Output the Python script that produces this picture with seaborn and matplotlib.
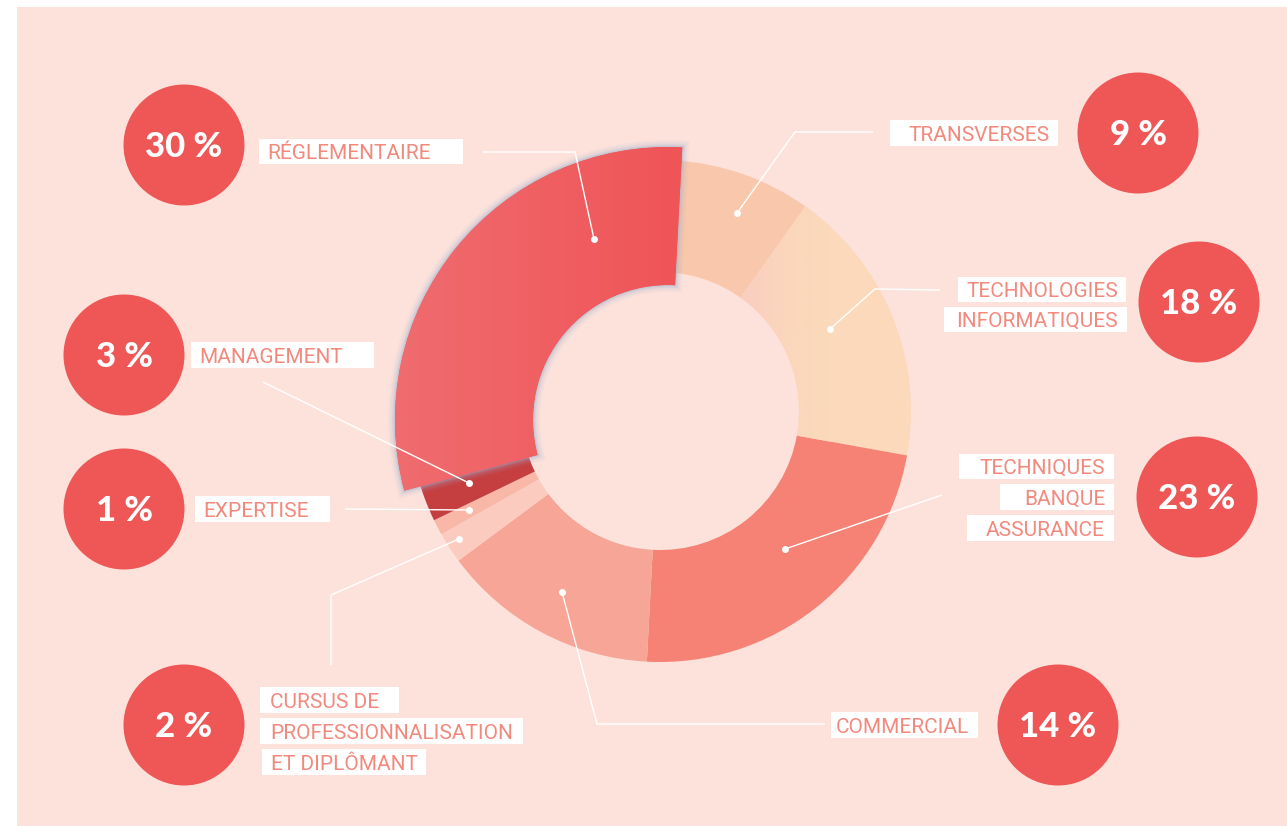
import numpy as np
import matplotlib.pyplot as plt
import seaborn as sns
from matplotlib.patches import Wedge, Circle, Rectangle

# data (clockwise from the top)
categories = ["TRANSVERSES", "TECHNOLOGIES INFORMATIQUES", "TECHNIQUES BANQUE ASSURANCE",
              "COMMERCIAL", "CURSUS DE PROFESSIONNALISATION ET DIPLÔMANT",
              "EXPERTISE", "MANAGEMENT", "RÉGLEMENTAIRE"]
shares = [9, 18, 23, 14, 2, 1, 3, 30]
label_lines = [["TRANSVERSES"],
               ["TECHNOLOGIES", "INFORMATIQUES"],
               ["TECHNIQUES", "BANQUE", "ASSURANCE"],
               ["COMMERCIAL"],
               ["CURSUS DE", "PROFESSIONNALISATION", "ET DIPLÔMANT"],
               ["EXPERTISE"],
               ["MANAGEMENT"],
               ["RÉGLEMENTAIRE"]]

# styles
slice_colors = ["#f9c7ab", "#fbd9ba", "#f58275", "#f6a596",
                "#fbcbbf", "#f8b7a7", "#c53f41", "#ef5a5d"]
BG = "#fde2dc"
CIRCLE = "#ef5757"
TXT = "#f3897d"
GLOW = "#9fb0cf"

W, H = 1287, 827
def Y(y):
    return H - y

sns.set_theme(style="white")
plt.rcParams["font.family"] = ["Roboto", "DejaVu Sans"]

fig = plt.figure(figsize=(W / 100, H / 100), dpi=100, facecolor="white")
ax = fig.add_axes([0, 0, 1, 1])

ax.add_patch(Rectangle((17, Y(826)), W - 17, 826 - 7, fc=BG, ec="none", zorder=0))

wedges, _ = ax.pie(shares, colors=slice_colors, startangle=87, counterclock=False,
                   radius=251, center=(660, Y(411)),
                   wedgeprops=dict(width=112, linewidth=0, edgecolor="none"))
for w in wedges:
    w.set_zorder(2)

# RÉGLEMENTAIRE pulled out and enlarged
expl = wedges[-1]
expl.set_center((668, Y(420)))
expl.set_radius(273)
expl.set_width(138)
expl.set_zorder(4)

for lw, a in [(10, 0.08), (7, 0.12), (4, 0.2), (2, 0.3)]:
    ax.add_patch(Wedge(expl.center, expl.r, expl.theta1, expl.theta2, width=expl.width,
                       fc="none", ec=GLOW, lw=lw, alpha=a, zorder=3))

grad = np.linspace(0, 1, 256).reshape(1, -1)
im = ax.imshow(grad, extent=(395, 685, Y(500), Y(140)), aspect="auto", zorder=4.5,
               cmap=sns.blend_palette(["#f06c6f", "#ef5457"], as_cmap=True))
im.set_clip_path(expl)

tech = wedges[1]
im2 = ax.imshow(grad, extent=(735, 830, Y(460), Y(200)), aspect="auto", zorder=2.5,
                cmap=sns.blend_palette(["#f9ccc1", "#fbd6bc", "#fbd9ba"], as_cmap=True))
im2.set_clip_path(tech)

# leader lines (pixel layout, dot at the slice end)
leaders = [
    [(873, 132), (795, 132), (737, 213)],
    [(940, 290), (875, 289), (830, 329)],
    [(942, 495), (785, 549)],
    [(825, 724), (597, 724), (562, 592)],
    [(331, 665), (331, 595), (459, 539)],
    [(345, 509), (469, 510)],
    [(263, 382), (469, 483)],
    [(483, 152), (575, 152), (594, 239)],
]
for pts in leaders:
    xs = [p[0] for p in pts]
    ys = [Y(p[1]) for p in pts]
    ax.plot(xs, ys, color="white", lw=1.0, zorder=6, solid_capstyle="butt")
    ax.plot(xs[-1], ys[-1], "o", color="white", ms=5, mec="none", zorder=6)

# percentage bubbles
bubbles = [(1138, 133), (1199, 302), (1197, 497), (1058, 725),
           (184, 725), (124, 509), (124, 355), (184, 145)]
for (cx, cy), v in zip(bubbles, shares):
    ax.add_patch(Circle((cx, Y(cy)), 60.5, fc=CIRCLE, ec="none", zorder=5))
    ax.text(cx, Y(cy + 12), f"{v} %", color="white", fontsize=25, fontweight="black",
            family=["Lato", "DejaVu Sans"], ha="center", va="baseline", zorder=6)

# label boxes: (x0, x1, y0, y1, text x, align) per line
boxes = [
    [(890, 1058, 120, 146, 1050, "right")],
    [(958, 1126, 277, 302, 1118, "right"), (944, 1127, 307, 332, 1118, "right")],
    [(959, 1114, 454, 479, 1105, "right"), (1000, 1114, 484, 510, 1105, "right"),
     (967, 1114, 515, 541, 1105, "right")],
    [(831, 978, 712, 738, 836, "left")],
    [(260, 399, 687, 713, 270, "left"), (260, 523, 718, 744, 270, "left"),
     (262, 426, 749, 775, 271, "left")],
    [(195, 330, 496, 522, 203, "left")],
    [(191, 374, 342, 368, 199, "left")],
    [(259, 463, 139, 164, 267, "left")],
]
for lines, bx in zip(label_lines, boxes):
    for txt, (x0, x1, y0, y1, tx, ha) in zip(lines, bx):
        ax.add_patch(Rectangle((x0, Y(y1)), x1 - x0, y1 - y0, fc="white", ec="none", zorder=5))
        ax.text(tx, Y(y1 - 5), txt, color=TXT, fontsize=15, ha=ha, va="baseline", zorder=6)

ax.set_xlim(0, W)
ax.set_ylim(0, H)
ax.set_aspect("auto")
ax.axis("off")

fig.savefig("out.png", dpi=100, facecolor="white")
